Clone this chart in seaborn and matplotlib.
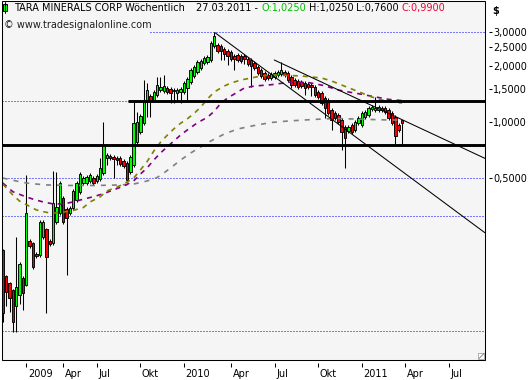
import matplotlib
matplotlib.use("Agg")
import matplotlib.pyplot as plt
import seaborn as sns
import numpy as np
import pandas as pd
from matplotlib.patches import Rectangle
from matplotlib.lines import Line2D
from matplotlib.transforms import IdentityTransform, ScaledTranslation
from matplotlib.ticker import NullLocator

# ---------------- data (weekly bars, price in $) ----------------
opens = [0.208,0.151,0.139,0.127,0.105,0.120,0.148,0.135,0.232,0.227,
 0.198,0.196,0.244,0.269,0.232,0.227,0.293,0.327,0.394,0.344,
 0.327,0.348,0.384,0.424,0.473,0.473,0.485,0.503,0.485,0.497,
 0.535,0.643,0.659,0.651,0.643,0.643,0.620,0.605,0.541,0.590,
 0.782,0.885,0.988,1.278,1.376,1.310,1.393,1.481,1.463,1.517,
 1.499,1.463,1.427,1.445,1.445,1.517,1.634,1.759,1.847,1.940,
 2.062,2.088,2.140,2.541,2.572,2.541,2.449,2.390,2.360,2.248,
 2.275,2.248,2.248,2.166,2.140,2.062,1.964,1.893,1.824,1.780,
 1.716,1.737,1.780,1.802,1.847,1.824,1.737,1.674,1.654,1.634,
 1.613,1.594,1.574,1.536,1.445,1.427,1.342,1.310,1.159,1.117,
 1.090,1.025,0.940,0.895,0.964,0.907,0.988,0.964,1.063,1.090,
 1.173,1.159,1.159,1.187,1.187,1.159,1.117,1.063,0.964,1.025]

highs = [0.211,0.153,0.140,0.129,0.244,0.179,0.151,0.522,0.238,0.229,
 0.203,0.301,0.301,0.272,0.238,0.548,0.541,0.485,0.403,0.352,
 0.357,0.440,0.485,0.541,0.516,0.522,0.535,0.516,0.528,0.643,
 1.000,0.683,0.675,0.667,0.659,0.659,0.635,0.620,0.667,1.278,
 1.131,1.103,1.674,1.613,1.410,1.481,1.737,1.737,1.780,1.555,
 1.536,1.517,1.517,1.536,1.654,1.737,1.940,2.013,2.140,2.166,
 2.248,2.275,2.702,3.017,2.636,2.604,2.510,2.449,2.419,2.303,
 2.332,2.303,2.303,2.220,2.193,2.114,2.013,1.940,1.870,1.824,
 1.847,1.870,1.893,2.088,1.893,1.870,1.780,1.716,1.695,1.674,
 1.654,1.634,1.613,1.574,1.481,1.463,1.376,1.342,1.187,1.144,
 1.117,1.050,0.964,0.964,0.988,1.025,1.076,1.144,1.159,1.217,
 1.232,1.359,1.232,1.217,1.217,1.187,1.144,1.090,0.988,1.025]

lows = [0.086,0.105,0.097,0.076,0.076,0.107,0.100,0.134,0.213,0.165,
 0.188,0.191,0.238,0.096,0.218,0.221,0.286,0.320,0.286,0.153,
 0.320,0.340,0.375,0.413,0.462,0.462,0.473,0.462,0.473,0.485,
 0.522,0.590,0.627,0.503,0.590,0.583,0.569,0.479,0.528,0.576,
 0.763,0.863,0.964,1.063,1.063,1.278,1.359,1.445,1.427,1.410,
 1.263,1.263,1.310,1.263,1.410,1.310,1.594,1.716,1.802,1.893,
 2.013,2.037,2.088,2.479,2.332,2.140,2.140,2.013,2.114,1.893,
 2.088,2.062,2.037,1.988,1.536,1.893,1.780,1.716,1.654,1.674,
 1.674,1.695,1.737,1.759,1.737,1.634,1.517,1.536,1.499,1.517,
 1.393,1.499,1.376,1.359,1.326,1.232,1.050,1.090,0.907,1.025,
 0.976,0.709,0.569,0.874,0.863,0.885,0.964,0.940,1.037,1.063,
 1.144,1.131,1.131,1.131,1.103,1.025,0.964,0.754,0.885,0.760]

closes = [0.096,0.124,0.115,0.086,0.132,0.175,0.123,0.327,0.218,0.169,
 0.193,0.293,0.293,0.191,0.224,0.370,0.352,0.473,0.293,0.308,
 0.348,0.429,0.473,0.528,0.503,0.509,0.522,0.473,0.516,0.569,
 0.754,0.667,0.643,0.635,0.627,0.597,0.583,0.491,0.651,0.988,
 1.000,1.076,1.294,1.481,1.310,1.445,1.574,1.536,1.555,1.445,
 1.427,1.481,1.481,1.499,1.613,1.695,1.893,1.964,2.088,2.114,
 2.193,2.220,2.636,2.872,2.390,2.390,2.303,2.248,2.166,2.166,
 2.140,2.114,2.166,2.037,1.988,1.940,1.824,1.759,1.695,1.716,
 1.802,1.824,1.847,1.893,1.780,1.674,1.574,1.574,1.536,1.555,
 1.517,1.536,1.536,1.393,1.359,1.263,1.188,1.117,1.025,1.050,
 1.000,0.885,0.822,0.940,0.885,1.000,1.050,1.117,1.131,1.187,
 1.202,1.187,1.202,1.159,1.131,1.050,0.988,0.842,0.907,0.990]

# moving averages (bar index, value)
olive_bar = [0, 3, 5, 7, 10, 13, 15, 18, 21, 24, 26, 29, 31, 34, 36, 39, 41, 43, 45, 47,
             49, 51, 53, 55, 57, 59, 61, 63, 66, 68, 71, 74, 77, 80, 85, 89, 92, 95, 98, 101,
             104, 107, 110, 113, 116, 119]
olive_val = [0.467, 0.408, 0.379, 0.363, 0.340, 0.330, 0.327, 0.331, 0.338, 0.350,
             0.375, 0.399, 0.429, 0.450, 0.467, 0.503, 0.555, 0.615, 0.700, 0.780,
             0.850, 0.920, 0.985, 1.040, 1.110, 1.202, 1.326, 1.445, 1.555, 1.613,
             1.674, 1.716, 1.759, 1.780, 1.770, 1.759, 1.737, 1.716, 1.654, 1.574,
             1.499, 1.427, 1.359, 1.310, 1.278, 1.263]
purple_bar = [0, 3, 6, 9, 12, 15, 18, 21, 24, 27, 30, 33, 36, 39, 41, 43, 45, 47, 49, 51,
              53, 55, 58, 61, 63, 65, 67, 70, 72, 75, 80, 86, 91, 96, 100, 104, 107, 111, 115, 119]
purple_val = [0.473, 0.425, 0.405, 0.388, 0.375, 0.366, 0.366, 0.375, 0.388, 0.400,
              0.415, 0.435, 0.455, 0.485, 0.528, 0.569, 0.627, 0.684, 0.737, 0.792,
              0.853, 0.907, 0.990, 1.060, 1.140, 1.260, 1.342, 1.445, 1.517, 1.555,
              1.580, 1.634, 1.624, 1.560, 1.480, 1.435, 1.405, 1.360, 1.320, 1.300]
gray_bar = [0, 4, 7, 10, 13, 20, 28, 35, 39, 43, 46, 48, 50, 53, 56, 59, 62, 66, 70, 75,
            80, 85, 90, 95, 100, 105, 110, 115, 119]
gray_val = [0.503, 0.485, 0.473, 0.467, 0.462, 0.459, 0.459, 0.462, 0.467, 0.485,
            0.506, 0.535, 0.569, 0.627, 0.684, 0.736, 0.792, 0.863, 0.918, 0.958,
            0.994, 1.012, 1.025, 1.037, 1.044, 1.037, 1.031, 1.025, 1.025]

# support / resistance and trend lines
support_levels = [1.294, 0.754]
support_start = [37.4, -0.24]
trend_a = ([63.25, 143.72], [2.991, 0.2568])
trend_b = ([80.9, 143.72], [2.140, 0.6399])
grid_levels = [3.0, 1.294, 0.5, 0.3155, 0.077]

ytick_vals = [3.0, 2.5, 2.0, 1.5, 1.0, 0.5]
ytick_labels = ["3,0000", "2,5000", "2,0000", "1,5000", "1,0000", "0,5000"]
xtick_pos = [7, 18, 28, 41, 54, 68, 81, 94, 107, 120, 133]
xtick_labels = ["2009", "Apr", "Jul", "Okt", "2010", "Apr", "Jul", "Okt", "2011", "Apr", "Jul"]

# ---------------- style ----------------
sns.set_theme(style="white")
plt.rcParams["font.family"] = ["DejaVu Sans"]
plt.rcParams["lines.scale_dashes"] = False

BG = "#F5F5F5"
W, H = 531, 380
fig = plt.figure(figsize=(W / 100, H / 100), dpi=100)
fig.patch.set_facecolor("white")
ax = fig.add_axes([2 / W, 20 / H, 483 / W, 359 / H])
ax.set_facecolor(BG)
ax.set_yscale("log")

df = pd.DataFrame({"bar": np.arange(len(opens)), "open": opens, "high": highs,
                   "low": lows, "close": closes})
up = df["close"] >= df["open"]

# dotted grid lines
dot = (0, (0.72, 1.44))
for lv in grid_levels:
    x0 = 44 if lv == 3.0 else -0.24
    ax.plot([x0, 143.72], [lv, lv], color="#0000FF", lw=0.72, ls=dot, zorder=1)

# candles
ax.vlines(df["bar"], df["low"], df["high"], color="black", lw=0.75, zorder=3)
bottoms = np.minimum(df["open"], df["close"])
heights = np.abs(df["close"] - df["open"])
ax.bar(df["bar"], heights, bottom=bottoms, width=0.72,
       color=np.where(up, "#00FF00", "#FF0000"), edgecolor="black",
       linewidth=0.65, zorder=4)

# moving averages
sns.lineplot(x=gray_bar, y=gray_val, ax=ax, color="#808080", lw=1.2,
             linestyle=(0, (3.6, 4.3)), zorder=5, legend=False)
sns.lineplot(x=purple_bar, y=purple_val, ax=ax, color="#800080", lw=1.2,
             linestyle=(0, (3.6, 3.6)), zorder=5, legend=False)
sns.lineplot(x=olive_bar, y=olive_val, ax=ax, color="#808000", lw=1.2,
             linestyle=(0, (3.6, 3.6)), zorder=5, legend=False)

# support lines and trend lines
for lv, x0 in zip(support_levels, support_start):
    ax.plot([x0, 143.72], [lv, lv], color="black", lw=2.1, zorder=6, solid_capstyle="butt")
ax.plot(trend_a[0], trend_a[1], color="black", lw=0.75, zorder=6)
ax.plot(trend_b[0], trend_b[1], color="black", lw=0.75, zorder=6)

ax.set_xlim(-0.24, 143.72)
ax.set_ylim(0.05393, 4.413)

# axes / ticks
for s in ax.spines.values():
    s.set_visible(False)
ax.spines["right"].set_position(("outward", 2.9))
ax.spines["bottom"].set_position(("outward", 2.2))
ax.yaxis.tick_right()
ax.set_yticks(ytick_vals, ytick_labels)
ax.yaxis.set_minor_locator(NullLocator())
ax.tick_params(axis="y", which="major", direction="out", length=2.2, width=0.75,
               pad=0.8, labelsize=7, colors="black", right=True, left=False)
ax.set_xticks(xtick_pos, xtick_labels)
ax.xaxis.set_minor_locator(NullLocator())
ax.tick_params(axis="x", which="major", direction="out", length=2.9, width=0.75,
               pad=1.4, labelsize=7, colors="black", bottom=True)
shift = ScaledTranslation(1.5 / 100, 0, fig.dpi_scale_trans)
for lab in ax.get_xticklabels():
    lab.set_horizontalalignment("left")
    lab.set_transform(lab.get_transform() + shift)
ax.grid(False)
ax.add_patch(Rectangle((0, 0), 1, 1, transform=ax.transAxes, fill=False,
                       ec="black", lw=0.75, zorder=10, clip_on=False))

# header
idt = IdentityTransform()
fig.add_artist(Line2D([5, 5], [H - 13, H - 2], transform=idt, color="black", lw=0.7))
fig.add_artist(Rectangle((3, H - 11), 4, 7, transform=idt, fc="#00FF00", ec="black", lw=0.7))
hy = H - 11
fig.text(14, hy, "TARA MINERALS CORP Wöchentlich", transform=idt, fontsize=7,
         color="black", va="baseline")
fig.text(196, hy, "27.03.2011 -", transform=idt, fontsize=7, color="black", va="baseline")
fig.text(261, hy, "O:1,0250", transform=idt, fontsize=7, color="#00C000", va="baseline")
fig.text(309, hy, "H:1,0250", transform=idt, fontsize=7, color="black", va="baseline")
fig.text(356, hy, "L:0,7600", transform=idt, fontsize=7, color="black", va="baseline")
fig.text(401, hy, "C:0,9900", transform=idt, fontsize=7, color="#F00030", va="baseline")
fig.text(4, H - 28, "© www.tradesignalonline.com", transform=idt, fontsize=7,
         color="#202020", va="baseline")
fig.text(492, H - 14, "$", transform=idt, fontsize=7, fontweight="bold",
         color="black", va="baseline")

# resize grip
fig.add_artist(Rectangle((478, 21), 6, 6, transform=idt, fc="white", ec="#909090", lw=0.5))
fig.add_artist(Line2D([479, 484], [21.5, 26.5], transform=idt, color="#606060", lw=0.5))

fig.savefig("out.png", dpi=100, facecolor="white")
